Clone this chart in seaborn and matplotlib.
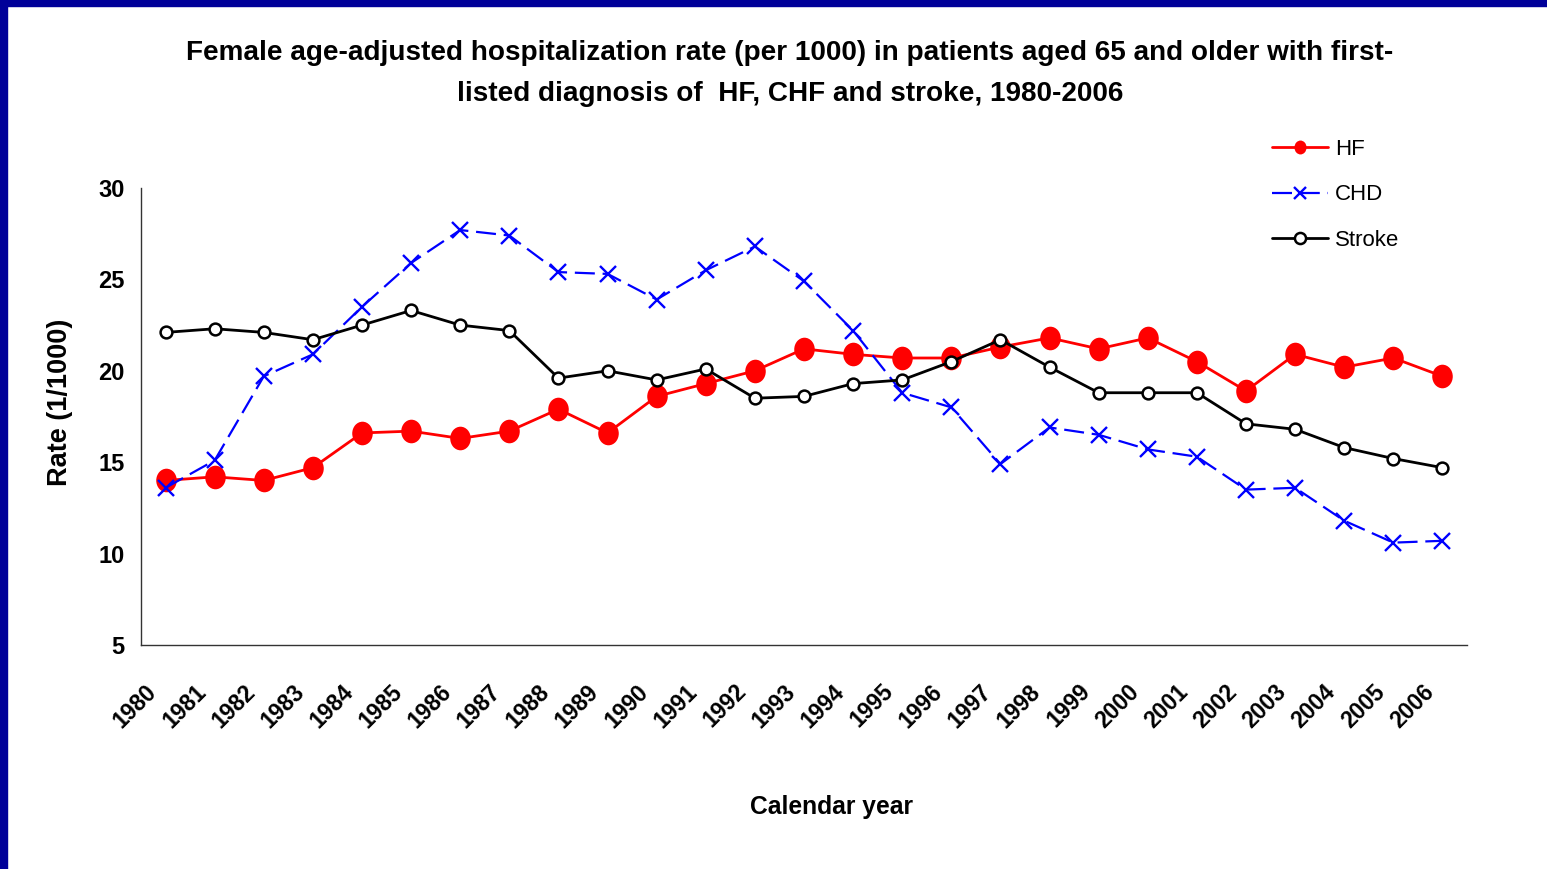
# Female age-adjusted hospitalization rate, 1980-2006
import numpy as np
import pandas as pd
import matplotlib
matplotlib.use("Agg")
import matplotlib.pyplot as plt
import seaborn as sns
from matplotlib.patches import Rectangle
from matplotlib.path import Path
from matplotlib.transforms import Affine2D

years = list(range(1980, 2007))
hf = [14.0, 14.2, 14.0, 14.7, 16.6, 16.7, 16.3, 16.7, 17.9, 16.6, 18.6, 19.3, 20.0,
      21.2, 20.9, 20.7, 20.7, 21.3, 21.8, 21.2, 21.8, 20.5, 18.9, 20.9, 20.2, 20.7, 19.7]
chd = [13.6, 15.1, 19.7, 20.9, 23.5, 25.9, 27.7, 27.4, 25.4, 25.3, 23.9, 25.5, 26.8,
       24.9, 22.2, 18.8, 18.0, 14.9, 16.9, 16.5, 15.7, 15.3, 13.5, 13.6, 11.8, 10.6, 10.7]
stroke = [22.1, 22.3, 22.1, 21.7, 22.5, 23.3, 22.5, 22.2, 19.6, 20.0, 19.5, 20.1, 18.5,
          18.6, 19.3, 19.5, 20.5, 21.7, 20.2, 18.8, 18.8, 18.8, 17.1, 16.8, 15.8, 15.2, 14.7]

df = pd.DataFrame({"pos": np.arange(len(years)), "HF": hf, "CHD": chd, "Stroke": stroke})

sns.set_style("white")
plt.rcParams["font.family"] = ["Liberation Sans", "DejaVu Sans"]
plt.rcParams.update({"text.color": "black", "axes.labelcolor": "black",
                     "xtick.color": "black", "ytick.color": "black"})

# slightly tall ellipse, like the slide's red markers
oval = Path.unit_circle().transformed(Affine2D().scale(0.87, 1.0))

fig = plt.figure(figsize=(15.47, 8.69), dpi=100)
ax = fig.add_axes([141 / 1547, 1 - 645 / 869, (1467 - 141) / 1547, (645 - 188) / 869])

sns.lineplot(data=df, x="pos", y="HF", ax=ax, color="#ff0000", lw=2, marker=oval,
             markersize=17, markeredgewidth=0, label="HF")
sns.lineplot(data=df, x="pos", y="CHD", ax=ax, color="#0000ff", lw=1.6, marker="x",
             markersize=12, markeredgewidth=1.7, markeredgecolor="#0000ff",
             label="CHD")
ax.lines[-1].set_dashes([9, 3.5])
sns.lineplot(data=df, x="pos", y="Stroke", ax=ax, color="black", lw=2, marker="o",
             markersize=8.5, markerfacecolor="white", markeredgecolor="black",
             markeredgewidth=1.8, label="Stroke")

ax.set_xlim(-0.5, len(years) - 0.5)
ax.set_ylim(5, 30)
ax.set_yticks(range(5, 31, 5))
# labels sit a little left of each category centre, as in the slide
ax.set_xticks(np.arange(len(years)) - 0.25)
ax.set_xticklabels([str(y) for y in years], rotation=45, ha="right", va="center",
                   rotation_mode="anchor", fontsize=16.5, fontweight="bold")
ax.set_xticks(np.arange(len(years) + 1) - 0.5, minor=True)
ax.tick_params(axis="x", which="major", length=0, pad=31)
ax.tick_params(axis="x", which="minor", direction="in", length=5, color="#333333", width=1)
ax.tick_params(axis="y", direction="in", length=5, color="#333333", width=1,
               labelsize=17, pad=12)
for lab in ax.get_yticklabels():
    lab.set_fontweight("bold")

for side in ["top", "right"]:
    ax.spines[side].set_visible(False)
for side in ["left", "bottom"]:
    ax.spines[side].set_color("#333333")
    ax.spines[side].set_linewidth(1)

ax.set_xlabel("Calendar year", fontsize=17.7, fontweight="bold")
ax.xaxis.set_label_coords((831 - 141) / (1467 - 141), -(807 - 645) / (645 - 188))
ax.xaxis.label.set_va("center")
ax.set_ylabel("Rate (1/1000)", fontsize=19.5, fontweight="bold")
ax.yaxis.set_label_coords(-(141 - 60) / (1467 - 141), (645 - 402) / (645 - 188))
ax.yaxis.label.set_va("center")

fig.text(790 / 1547, 1 - 53 / 869,
         "Female age-adjusted hospitalization rate (per 1000) in patients aged 65 and older with first-",
         ha="center", va="center", fontsize=20.1, fontweight="bold")
fig.text(790 / 1547, 1 - 94 / 869,
         "listed diagnosis of  HF, CHF and stroke, 1980-2006",
         ha="center", va="center", fontsize=20.1, fontweight="bold")

leg = ax.legend(loc="upper left", bbox_to_anchor=(1252 / 1547, 1 - 119 / 869),
                bbox_transform=fig.transFigure, frameon=False, fontsize=16,
                handlelength=2.5, labelspacing=1.1, handletextpad=0.35)
for h, ms in zip(leg.legend_handles, [10, 9, 8]):
    h.set_markersize(ms)

# slide-style dark blue border on top and left
fig.patches.append(Rectangle((0, 1 - 6 / 869), 1, 6 / 869, transform=fig.transFigure,
                             color="#000099", zorder=10))
fig.patches.append(Rectangle((0, 0), 7 / 1547, 1, transform=fig.transFigure,
                             color="#000099", zorder=10))

fig.savefig("out.png", dpi=100)
